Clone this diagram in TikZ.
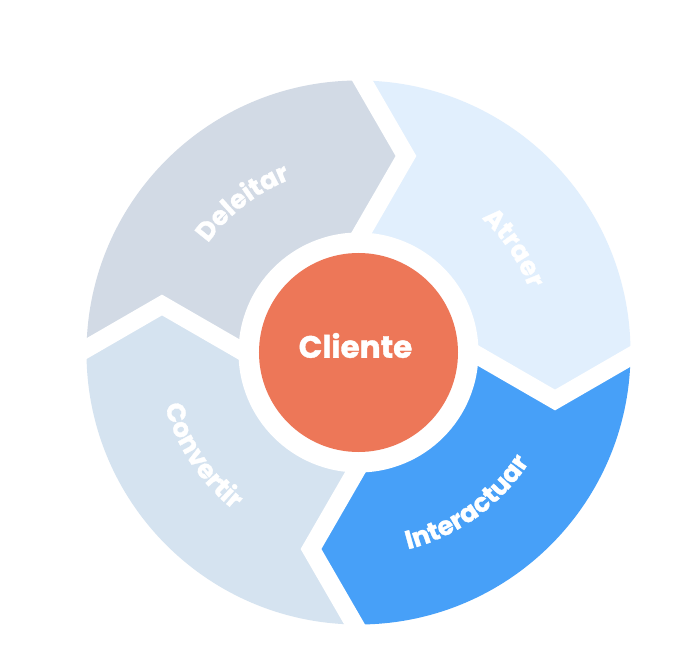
\documentclass[tikz,border=0pt]{standalone}
\usepackage{fontspec}
\setmainfont{Poppins}[BoldFeatures={FakeBold=1.2}]
\usetikzlibrary{decorations.text}
\definecolor{cDel}{HTML}{D2DAE5}
\definecolor{cAtr}{HTML}{E1EFFD}
\definecolor{cInt}{HTML}{47A0F8}
\definecolor{cCon}{HTML}{D5E3F0}
\definecolor{cCli}{HTML}{ED7758}
\tikzset{
  gap/.style={draw=white, line width=18pt, line join=miter, miter limit=10},
  ringlabel/.style={decorate, decoration={text along path, text align=center,
      text={|\fontsize{26}{26}\selectfont\bfseries\color{white}|#1}}}
}
\begin{document}
\begin{tikzpicture}[x=1pt,y=1pt]
\fill[white] (-358.5,-319.5) rectangle (340.5,352.5);
\useasboundingbox (-358.5,-319.5) rectangle (340.5,352.5);
\begin{scope}
  \clip (0,0) circle[radius=272pt];
  \foreach \k/\c in {0/cAtr,1/cInt,2/cCon,3/cDel}{
    \begin{scope}[rotate=-90*\k]
      \fill[\c] (-12.3,300) -- (47.5,196.5) -- (-8.2,100) -- (100,8.2) -- (196.5,-47.5) -- (300,12.3) -- (400,400) -- cycle;
    \end{scope}
  }
\end{scope}
\foreach \k in {0,...,3}{
  \draw[gap, rotate=-90*\k] (-12.3,300) -- (47.5,196.5) -- (-8.2,100);
}
\node[circle, fill=white, minimum size=240pt, inner sep=0pt] (ring) at (0,0) {};
\node[circle, fill=cCli, minimum size=199pt, inner sep=0pt] (cli) at (0,0) {};
\node[text=white, font=\fontsize{31}{31}\selectfont\bfseries, inner sep=0pt] (clitext) at (-3,7) {Cliente};
\path[ringlabel=Deleitar] (167.75:186pt) arc[start angle=167.75, end angle=87.75, radius=186pt];
\path[ringlabel=Atraer] (74:182pt) arc[start angle=74, end angle=-6, radius=182pt];
\path[ringlabel=Interactuar] (-104.3:203pt) arc[start angle=-104.3, end angle=-4.3, radius=203pt];
\path[ringlabel=Convertir] (173.5:201pt) arc[start angle=173.5, end angle=253.5, radius=201pt];
\end{tikzpicture}
\end{document}
